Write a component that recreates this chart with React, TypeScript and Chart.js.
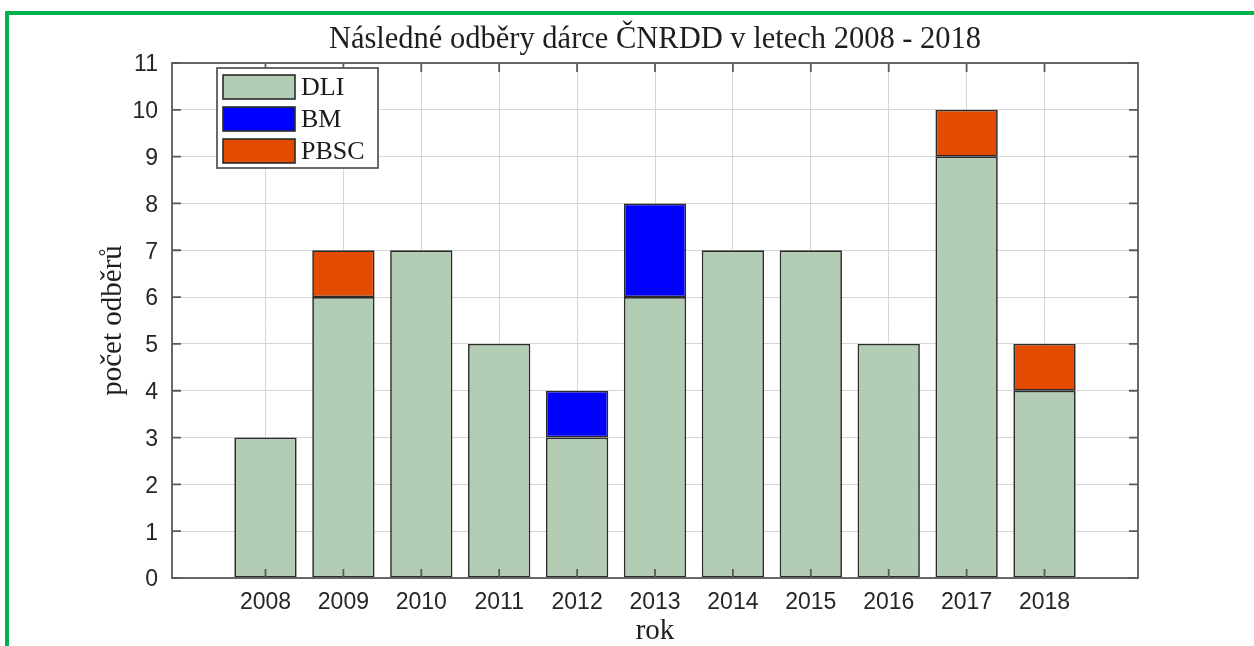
import React, { useEffect, useRef } from "react";
import { Chart, registerables } from "chart.js";

Chart.register(...registerables);

const TITLE = "Následné odběry dárce ČNRDD v letech 2008 - 2018";
const X_LABEL = "rok";
const Y_LABEL = "počet odběrů";
const YEARS = [2008, 2009, 2010, 2011, 2012, 2013, 2014, 2015, 2016, 2017, 2018];
const DLI = [3, 6, 7, 5, 3, 6, 7, 7, 5, 9, 4];
const BM = [0, 0, 0, 0, 1, 2, 0, 0, 0, 0, 0];
const PBSC = [0, 1, 0, 0, 0, 0, 0, 0, 0, 1, 1];
const SERIES_NAMES = ["DLI", "BM", "PBSC"];
const SERIES_COLORS = ["#b3cdb4", "#0000ff", "#e24b00"];
const Y_MIN = 0;
const Y_MAX = 11;
const X_MIN = 2006.8;
const X_MAX = 2019.2;

const SERIF = "'Liberation Serif', 'Times New Roman', serif";
const SANS = "'Liberation Sans', Arial, sans-serif";

const axesBox = {
  id: "axesBox",
  afterDatasetsDraw(chart: any) {
    const { ctx, chartArea: a, scales } = chart;
    const x = scales.x;
    const y = scales.y;
    ctx.save();
    ctx.strokeStyle = "#5a5a5a";
    ctx.lineWidth = 1.8;
    ctx.strokeRect(a.left, a.top, a.right - a.left, a.bottom - a.top);
    const L = 9;
    ctx.beginPath();
    x.ticks.forEach((t: any) => {
      const px = x.getPixelForValue(t.value);
      ctx.moveTo(px, a.bottom);
      ctx.lineTo(px, a.bottom - L);
      ctx.moveTo(px, a.top);
      ctx.lineTo(px, a.top + L);
    });
    y.ticks.forEach((t: any) => {
      const py = y.getPixelForValue(t.value);
      ctx.moveTo(a.left, py);
      ctx.lineTo(a.left + L, py);
      ctx.moveTo(a.right, py);
      ctx.lineTo(a.right - L, py);
    });
    ctx.stroke();
    ctx.restore();
  },
};

const centeredTitle = {
  id: "centeredTitle",
  afterDraw(chart: any) {
    const { ctx, chartArea: a } = chart;
    ctx.save();
    ctx.fillStyle = "#1e1e1e";
    ctx.font = `30.5px ${SERIF}`;
    ctx.textAlign = "center";
    ctx.textBaseline = "middle";
    ctx.fillText(TITLE, (a.left + a.right) / 2, 39.5);
    ctx.restore();
  },
};

const innerLegend = {
  id: "innerLegend",
  afterDraw(chart: any) {
    const { ctx, chartArea: a } = chart;
    const ds = chart.data.datasets;
    const bx = a.left + 45;
    const by = a.top + 5;
    const bw = 161;
    const pitch = 32;
    const bh = 7 + pitch * ds.length - 3;
    ctx.save();
    ctx.fillStyle = "#ffffff";
    ctx.fillRect(bx, by, bw, bh);
    ctx.strokeStyle = "#5a5a5a";
    ctx.lineWidth = 1.8;
    ctx.strokeRect(bx, by, bw, bh);
    ds.forEach((d: any, i: number) => {
      const py = by + 7 + i * pitch;
      ctx.fillStyle = d.backgroundColor;
      ctx.fillRect(bx + 6, py, 72, 24);
      ctx.strokeStyle = "#2b2b2b";
      ctx.lineWidth = 1.6;
      ctx.strokeRect(bx + 6, py, 72, 24);
      ctx.fillStyle = "#1a1a1a";
      ctx.font = `26px ${SERIF}`;
      ctx.textBaseline = "middle";
      ctx.textAlign = "left";
      ctx.fillText(d.label, bx + 84, py + 13);
    });
    ctx.restore();
  },
};

function ChartView() {
  const ref = useRef<HTMLCanvasElement | null>(null);
  useEffect(() => {
    if (!ref.current) return;
    const series = [DLI, BM, PBSC];
    const chart = new Chart(ref.current, {
      type: "bar",
      data: {
        datasets: series.map((vals, i) => ({
          label: SERIES_NAMES[i],
          data: YEARS.map((yr, j) => ({ x: yr, y: vals[j] === 0 ? null : vals[j] })),
          backgroundColor: SERIES_COLORS[i],
          borderColor: "#2b2b2b",
          borderWidth: 1.7,
          borderSkipped: false,
          barPercentage: 0.8,
          categoryPercentage: 1,
        })),
      },
      options: {
        responsive: false,
        animation: false,
        devicePixelRatio: 1,
        layout: { padding: { left: 0, right: 116, top: 63, bottom: 0 } },
        plugins: {
          legend: { display: false },
          tooltip: { enabled: false },
          title: { display: false },
        },
        scales: {
          x: {
            type: "linear",
            stacked: true,
            offset: false,
            min: X_MIN,
            max: X_MAX,
            afterBuildTicks: (scale: any) => {
              scale.ticks = YEARS.map((v) => ({ value: v }));
            },
            afterFit: (scale: any) => {
              scale.height = 68;
            },
            ticks: {
              autoSkip: false,
              maxRotation: 0,
              padding: 11,
              color: "#262626",
              font: { family: SANS, size: 23 },
              callback: (v: any) => String(v),
            },
            grid: { color: "#d6d6d6", lineWidth: 1, drawTicks: false, offset: false },
            border: { display: false },
            title: {
              display: true,
              text: X_LABEL,
              color: "#1e1e1e",
              font: { family: SERIF, size: 29, lineHeight: 1 },
              padding: { top: 0, bottom: 0 },
            },
          },
          y: {
            stacked: true,
            min: Y_MIN,
            max: Y_MAX,
            afterFit: (scale: any) => {
              scale.width = 172;
            },
            ticks: {
              stepSize: 1,
              padding: 14,
              labelOffset: 2,
              color: "#262626",
              font: { family: SANS, size: 23 },
            },
            grid: { color: "#d6d6d6", lineWidth: 1, drawTicks: false },
            border: { display: false },
            title: {
              display: true,
              text: Y_LABEL,
              color: "#1e1e1e",
              font: { family: SERIF, size: 29, lineHeight: 1 },
              padding: { top: 98.5, bottom: 0 },
            },
          },
        },
      },
      plugins: [axesBox, innerLegend, centeredTitle],
    } as any);
    return () => chart.destroy();
  }, []);
  return <canvas ref={ref} width={1254} height={646} style={{ display: "block" }} />;
}

export default function App() {
  return (
    <div
      style={{
        position: "fixed",
        left: 0,
        top: 0,
        width: 1254,
        height: 646,
        background: "#ffffff",
        overflow: "hidden",
      }}
    >
      <div
        style={{
          position: "absolute",
          left: 5,
          top: 11,
          width: 1260,
          height: 700,
          borderTop: "4px solid #00b050",
          borderLeft: "4px solid #00b050",
        }}
      />
      <div style={{ position: "absolute", left: 0, top: 0 }}>
        <ChartView />
      </div>
    </div>
  );
}
